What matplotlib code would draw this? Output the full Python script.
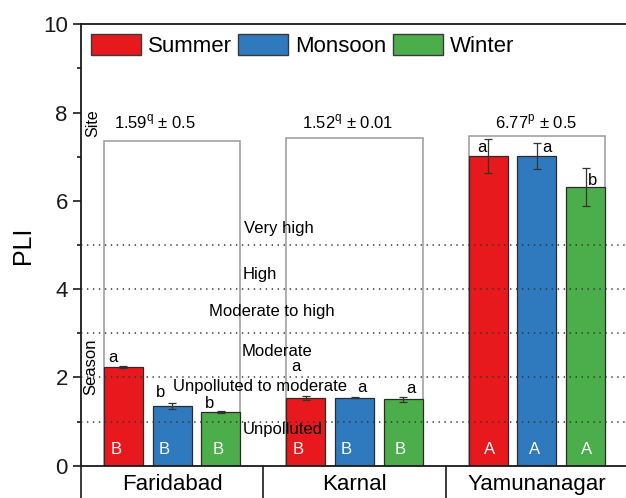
import matplotlib
matplotlib.use("Agg")
import matplotlib.pyplot as plt
from matplotlib.patches import Patch, Rectangle
import numpy as np

plt.rcParams["font.family"] = ["Liberation Sans", "DejaVu Sans"]
plt.rcParams["mathtext.fontset"] = "custom"
plt.rcParams["mathtext.rm"] = "Liberation Sans"

# ---- data ----
sites = ["Faridabad", "Karnal", "Yamunanagar"]
seasons = ["Summer", "Monsoon", "Winter"]
pli_summer = [2.23, 1.53, 7.02]
pli_monsoon = [1.35, 1.54, 7.02]
pli_winter = [1.21, 1.50, 6.31]
err_summer = [0.02, 0.05, 0.38]
err_monsoon = [0.07, 0.01, 0.30]
err_winter = [0.02, 0.05, 0.43]
season_letters = [["a", "b", "b"], ["a", "a", "a"], ["a", "a", "b"]]
site_letters = [["B", "B", "B"], ["B", "B", "B"], ["A", "A", "A"]]
site_means = ["1.59", "1.52", "6.77"]
site_groups = ["q", "q", "p"]
site_sd = ["0.5", "0.01", "0.5"]
class_limits = [1, 2, 3, 4, 5]
class_names = ["Unpolluted", "Unpolluted to moderate", "Moderate",
               "Moderate to high", "High", "Very high"]

colors = ["#E8191C", "#2F7ABF", "#4CAE4A"]

# ---- layout ----
fig = plt.figure(figsize=(6.26, 4.98), dpi=100)
ax = fig.add_axes([81 / 626, 32.3 / 498, 547 / 626, 441.4 / 498])
ax.set_xlim(0, 3)
ax.set_ylim(0, 10)

centers = np.arange(len(sites)) + 0.5
step = 0.267
width = 0.214
values = [pli_summer, pli_monsoon, pli_winter]
errors = [err_summer, err_monsoon, err_winter]

# gray site boxes enclosing each group of bars
box_tops = [7.36, 7.43, 7.46]
for c, top in zip(centers, box_tops):
    x0 = c - step - width / 2
    ax.add_patch(Rectangle((x0, 0), 2 * step + width, top, fill=False,
                           edgecolor="#9a9a9a", lw=1.1, zorder=1))

# bars with error bars
for k in range(3):
    xs = centers + (k - 1) * step
    ax.bar(xs, values[k], width=width, color=colors[k], edgecolor="#2b2b2b",
           lw=0.9, zorder=2)
    ax.errorbar(xs, values[k], yerr=errors[k], fmt="none", ecolor="#333333",
                elinewidth=0.9, capsize=3.2, capthick=0.9, zorder=3)

# season letters above bars and site letters inside bars
letter_dx = [[-0.057, -0.063, -0.063], [-0.054, 0.04, 0.043], [-0.033, 0.055, 0.04]]
letter_y = [[2.45, 1.66, 1.40], [2.24, 1.77, 1.75], [7.20, 7.20, 6.47]]
inner_dx = [[-0.041, -0.043, -0.017], [-0.044, -0.046, -0.018], [0.005, -0.015, 0.003]]
for i, c in enumerate(centers):
    for k in range(3):
        xb = c + (k - 1) * step
        ax.text(xb + letter_dx[i][k], letter_y[i][k], season_letters[i][k],
                ha="center", va="center", fontsize=12, zorder=5)
        ax.text(xb + inner_dx[i][k], 0.37, site_letters[i][k], ha="center",
                va="center", fontsize=12, color="white", zorder=5)

# site mean labels
site_x = [0.405, 1.465, 2.495]
for x, m, g, s in zip(site_x, site_means, site_groups, site_sd):
    ax.text(x, 7.64, m + r"$^{\mathregular{" + g + "}}$ ± " + s,
            ha="center", va="baseline", fontsize=12, zorder=5)

# pollution class thresholds
for y in class_limits:
    ax.axhline(y, color="#333333", lw=1.1, ls=(0, (0.9, 3.0)), zorder=4)
class_pos = [(1.107, 0.81), (0.984, 1.79), (1.075, 2.58),
             (1.048, 3.50), (0.982, 4.34), (1.085, 5.38)]
for name, (x, y) in zip(class_names, class_pos):
    ax.text(x, y, name, ha="center", va="center", fontsize=12, zorder=5)

ax.text(0.064, 7.76, "Site", rotation=90, ha="center", va="center", fontsize=11.5)
ax.text(0.053, 2.24, "Season", rotation=90, ha="center", va="center", fontsize=12)

# legend
handles = [Patch(facecolor=c, edgecolor="#3a3a3a", lw=1.0) for c in colors]
ax.legend(handles, seasons, loc="upper left", bbox_to_anchor=(0.0177, 0.978),
          ncol=3, frameon=False, fontsize=16, handlelength=2.25,
          handleheight=1.08, handletextpad=0.33, columnspacing=0.27,
          borderaxespad=0, borderpad=0)

# axes styling
for side in ["left", "top"]:
    ax.spines[side].set_linewidth(1.3)
    ax.spines[side].set_color("#1a1a1a")
ax.spines["bottom"].set_linewidth(1.3)
ax.spines["bottom"].set_color("#1a1a1a")
ax.spines["right"].set_visible(False)

ax.set_yticks(np.arange(0, 11, 2))
ax.set_yticks(np.arange(1, 10, 2), minor=True)
ax.tick_params(axis="y", which="major", direction="out", length=5.5, width=1.2,
               labelsize=16, pad=4, colors="#1a1a1a")
ax.tick_params(axis="y", which="minor", direction="out", length=3, width=1.2,
               colors="#1a1a1a")
ax.set_ylabel("PLI", fontsize=18, labelpad=6)

ax.set_xticks([0, 1, 2, 3])
ax.set_xticklabels([])
ax.set_xticks(centers, minor=True)
ax.set_xticklabels(sites, minor=True)
ax.tick_params(axis="x", which="major", direction="out", length=26, width=1.2,
               colors="#1a1a1a")
ax.tick_params(axis="x", which="minor", length=0, labelsize=16, pad=6)

fig.savefig("out.png", dpi=100)
